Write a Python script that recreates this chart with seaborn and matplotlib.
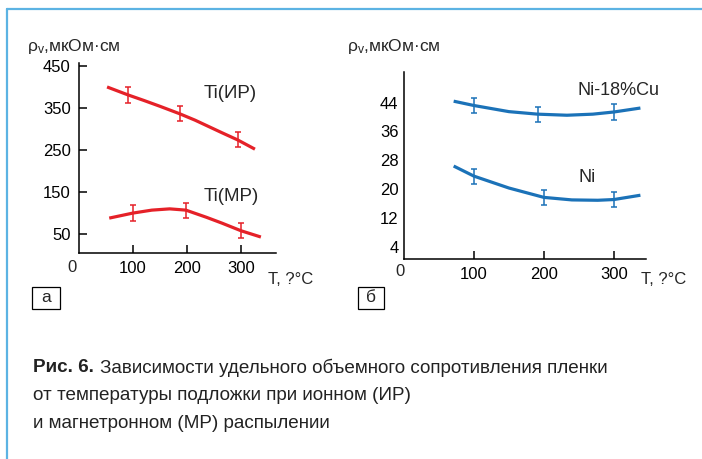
import matplotlib
matplotlib.use("Agg")
import matplotlib.pyplot as plt
from matplotlib.lines import Line2D
from matplotlib.patches import Rectangle
import seaborn as sns

# curves: T, °C -> rho_v, мкОм·см
ti_ir_t = [52, 91, 120, 150, 187, 215, 240, 265, 294, 326]
ti_ir_rho = [400, 381, 368, 354, 336, 321, 306, 291, 274, 252]
ti_mr_t = [56, 100, 135, 168, 198, 236, 265, 300, 337]
ti_mr_rho = [88, 100, 107, 110, 107, 90, 76, 58, 43]
nicu_t = [71, 100, 150, 191, 233, 270, 300, 338]
nicu_rho = [44.4, 43.2, 41.5, 40.8, 40.5, 40.8, 41.4, 42.5]
ni_t = [71, 100, 150, 200, 240, 277, 300, 338]
ni_rho = [26.4, 23.6, 20.3, 17.7, 17.0, 16.9, 17.1, 18.3]

# measured points with error bars
ti_ir_pts_t = [91, 187, 294]
ti_ir_pts_rho = [381, 336, 274]
ti_mr_pts_t = [100, 198, 300]
ti_mr_pts_rho = [100, 107, 58]
ti_err = 18
nicu_pts_t = [100, 191, 300]
nicu_pts_rho = [43.2, 40.8, 41.4]
ni_pts_t = [100, 200, 300]
ni_pts_rho = [23.6, 17.6, 17.2]
ni_err = 2.1

x_ticks = [100, 200, 300]
a_y_ticks = [50, 150, 250, 350, 450]
b_y_ticks = [4, 12, 20, 28, 36, 44]

RED = "#e52128"
BLUE = "#1b72b8"
FRAME = "#5cb3e3"
W, H = 702, 459

sns.set_theme(style="ticks")
plt.rcParams["font.family"] = ["Liberation Sans", "DejaVu Sans"]


def fx(x):
    return x / W


def fy(y):
    return 1 - y / H


fig = plt.figure(figsize=(W / 100, H / 100), dpi=100)


def style_axis(ax, y_ticks_on):
    sns.despine(ax=ax)
    for s in ["left", "bottom"]:
        ax.spines[s].set_color("black")
        ax.spines[s].set_linewidth(1.1)
    ax.tick_params(axis="x", direction="in", length=6, width=1.1, pad=6,
                   labelsize=12, colors="black")
    ax.tick_params(axis="y", direction="in", length=6 if y_ticks_on else 0,
                   width=1.1, pad=6 if y_ticks_on else 4, labelsize=12, colors="black")
    ax.set_xlabel("")
    ax.set_ylabel("")
    ax.grid(False)
    ax.set_facecolor("none")


def curve(ax, t, rho, color):
    sns.lineplot(x=t, y=rho, ax=ax, color=color, linewidth=2.3, sort=False,
                 estimator=None, solid_capstyle="butt")


def bars(ax, t, rho, err, color):
    ax.errorbar(t, rho, yerr=err, fmt="none", ecolor=color, elinewidth=1.1,
                capsize=2.2, capthick=1.1)


# panel a
ax_a = fig.add_axes([fx(79), fy(253), fx(276) - fx(79), fy(63) - fy(253)])
curve(ax_a, ti_ir_t, ti_ir_rho, RED)
curve(ax_a, ti_mr_t, ti_mr_rho, RED)
bars(ax_a, ti_ir_pts_t, ti_ir_pts_rho, ti_err, RED)
bars(ax_a, ti_mr_pts_t, ti_mr_pts_rho, ti_err, RED)
ax_a.set_xlim(0, 365)
ax_a.set_ylim(5, 457)
ax_a.set_xticks(x_ticks)
ax_a.set_yticks(a_y_ticks)
style_axis(ax_a, True)
ax_a.text(0.632, 0.842, "Ti(ИР)", transform=ax_a.transAxes, fontsize=13.5, va="center")
ax_a.text(0.632, 0.295, "Ti(МР)", transform=ax_a.transAxes, fontsize=13.5, va="center")

# panel b
ax_b = fig.add_axes([fx(404), fy(259), fx(646) - fx(404), fy(72) - fy(259)])
curve(ax_b, nicu_t, nicu_rho, BLUE)
curve(ax_b, ni_t, ni_rho, BLUE)
bars(ax_b, nicu_pts_t, nicu_pts_rho, ni_err, BLUE)
bars(ax_b, ni_pts_t, ni_pts_rho, ni_err, BLUE)
ax_b.set_xlim(0, 346)
ax_b.set_ylim(0.6, 52.5)
ax_b.set_xticks(x_ticks)
ax_b.set_yticks(b_y_ticks)
style_axis(ax_b, False)
ax_b.text(0.719, 0.902, "Ni-18%Cu", transform=ax_b.transAxes, fontsize=13, va="center")
ax_b.text(0.723, 0.438, "Ni", transform=ax_b.transAxes, fontsize=13, va="center")

# axis titles, origin zeros, panel letters
ylab = r"$\mathregular{ρ_v}$,мкОм·см"
fig.text(fx(27), fy(47), ylab, fontsize=12.5, va="center", ha="left")
fig.text(fx(347), fy(47), ylab, fontsize=12.5, va="center", ha="left")
fig.text(fx(268), fy(279), "T, ?°C", fontsize=12, va="center", ha="left")
fig.text(fx(641), fy(279), "T, ?°C", fontsize=12, va="center", ha="left")
fig.text(fx(72), fy(268), "0", fontsize=12, va="center", ha="center")
fig.text(fx(400), fy(272), "0", fontsize=12, va="center", ha="center")

for x0, x1, letter in [(32, 60, "а"), (358, 384, "б")]:
    fig.add_artist(Rectangle((fx(x0), fy(309)), fx(x1) - fx(x0), fy(287) - fy(309),
                             transform=fig.transFigure, fill=False,
                             edgecolor="black", linewidth=0.9))
    fig.text(fx((x0 + x1) / 2), fy(298), letter, fontsize=12.5, ha="center", va="center")

# blue frame at the top and left edge
fig.add_artist(Line2D([fx(7), 1], [fy(9), fy(9)], color=FRAME, linewidth=1.6,
                      transform=fig.transFigure))
fig.add_artist(Line2D([fx(7), fx(7)], [fy(9), 0], color=FRAME, linewidth=1.6,
                      transform=fig.transFigure))

# caption
cap_size = 13.6
cap_font = "Liberation Sans"
bold = fig.text(fx(33), fy(368), "Рис. 6.", fontsize=cap_size, fontweight="bold",
                family=cap_font, va="center", ha="left", color="#222222")
fig.canvas.draw()
bb = bold.get_window_extent(fig.canvas.get_renderer())
fig.text(bb.x1 / fig.bbox.width + fx(6), fy(368),
         "Зависимости удельного объемного сопротивления пленки",
         fontsize=cap_size, family=cap_font, va="center", ha="left", color="#222222")
fig.text(fx(33), fy(396), "от температуры подложки при ионном (ИР)",
         fontsize=cap_size, family=cap_font, va="center", ha="left", color="#222222")
fig.text(fx(33), fy(423), "и магнетронном (МР) распылении",
         fontsize=cap_size, family=cap_font, va="center", ha="left", color="#222222")

fig.savefig("out.png", dpi=100, facecolor="white")
